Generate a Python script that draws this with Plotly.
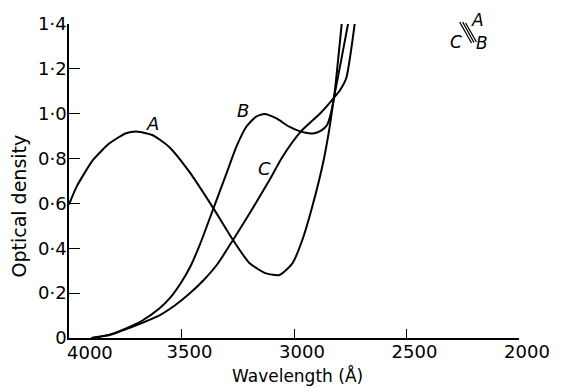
import plotly.graph_objects as go

# Curve A
wl_A = [4000, 3966, 3893, 3820, 3746, 3695, 3630, 3556, 3468, 3358, 3271, 3197,
        3124, 3065, 3007, 2963, 2919, 2868, 2839, 2824, 2790, 2758]
od_A = [0.595, 0.675, 0.794, 0.868, 0.913, 0.92, 0.905, 0.853, 0.745, 0.578, 0.437, 0.333,
        0.288, 0.281, 0.333, 0.437, 0.585, 0.794, 0.957, 1.061, 1.24, 1.41]

# Curve B
wl_B = [3900, 3820, 3746, 3674, 3600, 3550, 3500, 3460, 3417, 3358, 3300, 3256, 3212,
        3168, 3131, 3080, 3021, 2970, 2934, 2915, 2880, 2853, 2824, 2805, 2787]
od_B = [0.0, 0.015, 0.043, 0.078, 0.13, 0.18, 0.25, 0.32, 0.42, 0.578, 0.734, 0.853, 0.942,
        0.987, 0.999, 0.98, 0.942, 0.92, 0.913, 0.912, 0.925, 0.95, 1.06, 1.23, 1.41]

# Curve C
wl_C = [3900, 3820, 3746, 3674, 3600, 3530, 3468, 3400, 3340, 3271, 3197, 3109, 3051,
        2970, 2883, 2831, 2795, 2768, 2729]
od_C = [0.0, 0.013, 0.04, 0.068, 0.10, 0.145, 0.195, 0.26, 0.33, 0.437, 0.556, 0.704, 0.808,
        0.92, 1.002, 1.061, 1.106, 1.158, 1.41]

x_ticks = [4000, 3500, 3000, 2500, 2000]
x_ticktext = ["", "3500", "3000", "2500", "2000"]   # "4000" is set as an offset label below
first_x_label = "4000"
y_ticks = [0, 0.2, 0.4, 0.6, 0.8, 1.0, 1.2, 1.4]
y_ticktext = ["0", "0·2", "0·4", "0·6", "0·8", "1·0", "1·2", "1·4"]

curve_labels = ["A", "B", "C"]
label_pos = [(3630, 0.957), (3227, 1.013), (3131, 0.757)]

FONT = "DejaVu Sans"
W, H = 562, 387
ML, MR, MT, MB = 69, 38, 24, 49
PW, PH = W - ML - MR, H - MT - MB


def px(xp):
    return (xp - ML) / PW


def py(yp):
    return (H - MB - yp) / PH


fig = go.Figure()
for wl, od in [(wl_A, od_A), (wl_B, od_B), (wl_C, od_C)]:
    fig.add_trace(go.Scatter(x=wl, y=od, mode="lines",
                             line=dict(color="black", width=2, shape="spline", smoothing=0.6),
                             showlegend=False, hoverinfo="skip"))


def ann(x, y, text, size, xref="paper", yref="paper", angle=0):
    return dict(x=x, y=y, xref=xref, yref=yref, text=text, showarrow=False,
                xanchor="center", yanchor="middle", textangle=angle,
                font=dict(family=FONT, size=size, color="black"))


annotations = []
for lab, (xv, yv) in zip(curve_labels, label_pos):
    annotations.append(ann(xv, yv, f"<i>{lab}</i>", 18, "x", "y"))

annotations += [
    ann(px(482), py(20), "<i>A</i>", 17),
    ann(px(460), py(42), "<i>C</i>", 17),
    ann(px(487), py(43), "<i>B</i>", 17),
    ann(px(90), py(352), first_x_label, 18),
    ann(px(300), py(375), "Wavelength (Å)", 17),
    ann(px(18), py(206), "Optical density", 19, angle=-90),
]

shapes = []
for (x0, y0, x1, y1) in [(464, 22, 476, 43), (467, 22, 478.5, 42.5), (470, 23, 481, 42)]:
    shapes.append(dict(type="line", xref="paper", yref="paper", x0=px(x0), y0=py(y0),
                       x1=px(x1), y1=py(y1), line=dict(color="black", width=1.3)))

fig.update_layout(
    width=W, height=H,
    margin=dict(l=ML, r=MR, t=MT, b=MB, pad=0),
    paper_bgcolor="white", plot_bgcolor="white",
    annotations=annotations, shapes=shapes,
    xaxis=dict(range=[4000, 2000], tickvals=x_ticks, ticktext=x_ticktext,
               showgrid=False, zeroline=False, showline=True, linecolor="black", linewidth=1.5,
               ticks="inside", ticklen=9, tickwidth=1.3, tickcolor="black",
               tickfont=dict(family=FONT, size=18, color="black"),
               ticklabelshift=-8, ticklabelstandoff=-3),
    yaxis=dict(range=[0, 1.4], tickvals=y_ticks, ticktext=y_ticktext,
               showgrid=False, zeroline=False, showline=True, linecolor="black", linewidth=1.5,
               ticks="inside", ticklen=11, tickwidth=1.3, tickcolor="black",
               tickfont=dict(family=FONT, size=18, color="black"), ticklabelstandoff=-3),
)

fig.write_html("out.html", config={"displayModeBar": False},
               post_script="document.body.style.margin='0';document.body.style.padding='0';")
